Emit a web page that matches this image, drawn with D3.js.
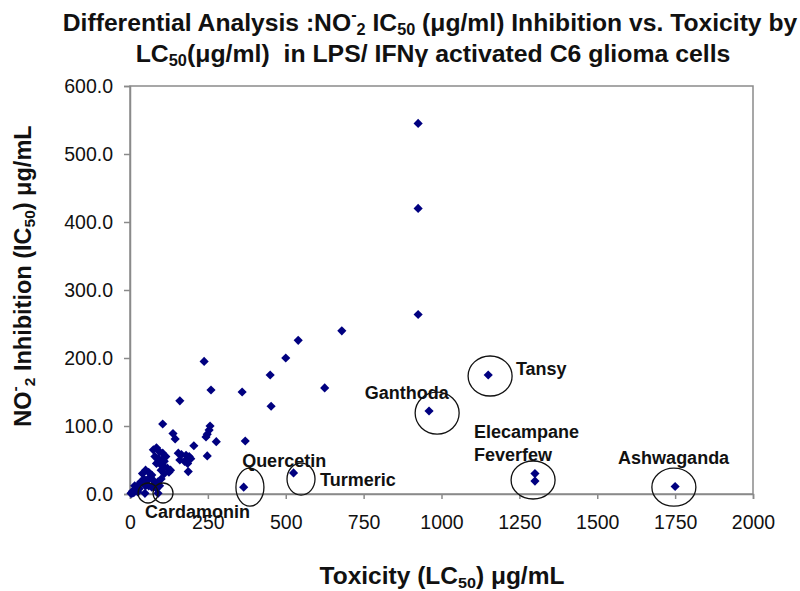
<!DOCTYPE html>
<html><head><meta charset="utf-8">
<script src="https://cdn.jsdelivr.net/npm/d3@7"></script>
<style>body{margin:0;background:#fff}svg{display:block}</style>
</head><body><svg id="c" width="800" height="591"></svg>
<script>
// ---- data ----
const toxicityLC50 = [925,925,925,680,540,500,450,360,453,625,370,238,260,160,105,138,145,205,257,254,248,244,277,248,187,
  155,165,180,190,160,175,185,195,
  75,85,95,105,80,90,100,110,115,95,105,85,120,125,130,110,100,
  40,50,60,70,45,55,65,75,80,90,100,60,70,85,95,35,50,
  3,8,12,18,22,28,15,25,30,6,48,
  365,525,90,960,1150,1300,1300,1750];
const inhibitionIC50 = [545,420,264,240,226,200,175,150,129,156,78,195,153,137,103,89,81,71,100,94,88,84,77,56,33,
  60,58,57,55,50,48,45,52,
  65,68,62,60,55,52,50,48,55,45,42,45,38,32,35,30,35,
  30,35,32,28,22,20,25,20,15,18,22,12,10,8,12,18,12,
  1,4,2,6,10,14,12,3,8,1,1,
  10,31,1,122,175,30,19,11];
const xTicks = [0,250,500,750,1000,1250,1500,1750,2000];
const yTicks = [0,100,200,300,400,500,600];
const labelNames = ["Tansy","Ganthoda","Elecampane","Feverfew","Ashwaganda","Quercetin","Turmeric","Cardamonin"];
const labelX = [1239,754,1104,1104,1567,360,610,48];
const labelY = [175,140,82,48.5,44,40,12,-35];
const ringX = [385,549,1156,986,1294,1746,58,106];
const ringY = [10,22,173.5,119,20.6,10,1.5,1.5];
const ringRx = [14,14,22,22,22,22,10,10];
const ringRy = [19,16,20,21,19,19,10,10];

const svg = d3.select("#c");
const F = "'Liberation Sans', Arial, sans-serif";
const x = d3.scaleLinear().domain([0,2000]).range([130,753]);
const y = d3.scaleLinear().domain([0,600]).range([494,86]);

// plot border
svg.append("rect").attr("x",130).attr("y",86).attr("width",623).attr("height",408)
  .attr("fill","none").attr("stroke","#8a8a8a").attr("stroke-width",1.5);

// axes
const ya = svg.append("g").attr("transform","translate(130,0)")
  .call(d3.axisLeft(y).tickValues(yTicks).tickFormat(d3.format(".1f")).tickSize(6).tickPadding(11));
const xa = svg.append("g").attr("transform","translate(0,494)")
  .call(d3.axisBottom(x).tickValues(xTicks).tickFormat(d3.format("d")).tickSize(5).tickPadding(16));
[ya,xa].forEach(g=>{
  g.selectAll("path,line").attr("stroke","#8a8a8a").attr("stroke-width",1.5);
  g.selectAll("text").attr("font-family",F).attr("font-size",19.5).attr("fill","#111");
});

// points
svg.append("g").selectAll("path").data(toxicityLC50.map((v,i)=>[v,inhibitionIC50[i]]))
  .join("path")
  .attr("d", d3.symbol(d3.symbolSquare, 42))
  .attr("transform", d=>`translate(${x(d[0])},${y(d[1])}) rotate(45)`)
  .attr("fill","#000080");

// rings
svg.append("g").selectAll("ellipse").data(ringX.map((v,i)=>i)).join("ellipse")
  .attr("cx",i=>x(ringX[i])).attr("cy",i=>y(ringY[i]))
  .attr("rx",i=>ringRx[i]).attr("ry",i=>ringRy[i])
  .attr("fill","none").attr("stroke","#111").attr("stroke-width",1.3);

// labels
svg.append("g").selectAll("text").data(labelNames).join("text")
  .attr("x",(d,i)=>x(labelX[i])).attr("y",(d,i)=>y(labelY[i]))
  .attr("font-family",F).attr("font-weight","bold").attr("font-size",18).attr("fill","#111")
  .text(d=>d);

// rich text helper: parts = [text, kind]; kind: base | sub | sup | supToSub | back
function rich(g, parts, size){
  const t = g.append("text").attr("font-family",F).attr("font-weight","bold").attr("font-size",size).attr("fill","#111");
  parts.forEach(p=>{
    const s = t.append("tspan").text(p[0]);
    const k = p[1];
    if(k==="sub") s.attr("font-size",size*0.66).attr("dy",size*0.18);
    if(k==="sup") s.attr("font-size",size*0.66).attr("dy",-size*0.45);
    if(k==="supToSub") s.attr("font-size",size*0.66).attr("dy",size*0.63);
    if(k==="back") s.attr("dy",-size*0.18);
  });
  return t;
}
function fit(t, cx, baseline, width){
  const w = t.node().getComputedTextLength();
  const k = width/w;
  t.attr("text-anchor","middle").attr("transform",`translate(${cx},${baseline}) scale(${k},1)`);
}
const t1 = rich(svg.append("g"), [["Differential Analysis :NO"],["-","sup"],["2","supToSub"],[" IC","back"],["50","sub"],[" (μg/ml) Inhibition vs. Toxicity by","back"]], 24);
fit(t1, 430, 31, 735);
const t2 = rich(svg.append("g"), [["LC"],["50","sub"],["(μg/ml)  in LPS/ IFNγ activated C6 glioma cells","back"]], 24);
t2.style("white-space","pre");
fit(t2, 433, 62, 595);

// x axis title
const xt = rich(svg.append("g"), [["Toxicity (LC"],["50","sub"],[") μg/mL","back"]], 23.5);
fit(xt, 442, 584, 245);

// y axis title
const yt = rich(svg.append("g"), [["NO"],["-","sup"],["2","supToSub"],[" Inhibition (IC","back"],["50","sub"],[") μg/mL","back"]], 23.5);
yt.attr("text-anchor","middle").attr("transform","translate(31,276) rotate(-90)");
</script></body></html>
